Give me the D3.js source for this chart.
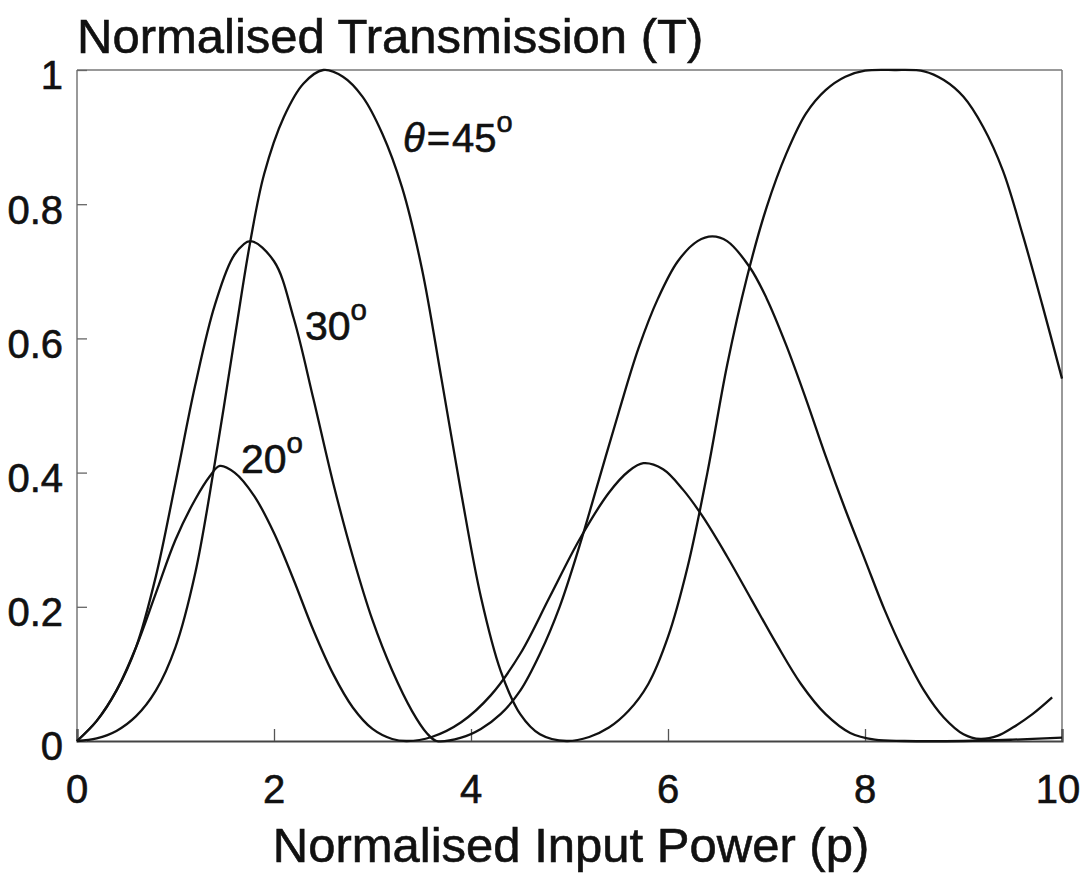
<!DOCTYPE html>
<html>
<head>
<meta charset="utf-8">
<script src="https://cdn.jsdelivr.net/npm/d3@7"></script>
<style>
  html, body { margin: 0; padding: 0; background: #fff; }
  svg { display: block; }
  text { font-family: "Liberation Sans", Arial, Helvetica, sans-serif; fill: #111; stroke: #111; stroke-width: 0.6px; }
</style>
</head>
<body>
<svg id="chart" width="1086" height="878"></svg>
<script>
// ---- data ----
const xTicks = [0, 2, 4, 6, 8, 10];
const yTicks = [0, 0.2, 0.4, 0.6, 0.8, 1];
const yTickLabels = ["0", "0.2", "0.4", "0.6", "0.8", "1"];

const p20 = [0, 0.2, 0.4, 0.6, 0.8, 1.0, 1.2, 1.35, 1.45, 1.6, 1.8, 2.0, 2.2, 2.4, 2.6, 2.8, 3.0, 3.2, 3.35, 3.6, 3.9, 4.2, 4.5, 4.8, 5.1, 5.4, 5.6, 5.75, 5.95, 6.15, 6.35, 6.6, 6.85, 7.1, 7.35, 7.6, 7.85, 8.1, 8.4, 9.0, 9.5, 10];
const t20 = [0, 0.03, 0.075, 0.14, 0.22, 0.30, 0.36, 0.395, 0.41, 0.40, 0.365, 0.31, 0.24, 0.165, 0.10, 0.05, 0.018, 0.003, 0, 0.006, 0.028, 0.068, 0.13, 0.215, 0.30, 0.37, 0.402, 0.414, 0.405, 0.375, 0.335, 0.275, 0.21, 0.145, 0.085, 0.04, 0.012, 0.002, 0, 0, 0.002, 0.005];

const p30 = [0, 0.2, 0.4, 0.6, 0.8, 1.0, 1.2, 1.4, 1.6, 1.76, 2.0, 2.2, 2.4, 2.6, 2.8, 3.0, 3.2, 3.4, 3.55, 3.65, 3.9, 4.1, 4.3, 4.5, 4.7, 4.9, 5.1, 5.3, 5.5, 5.7, 5.9, 6.1, 6.3, 6.45, 6.6, 6.83, 7.0, 7.2, 7.4, 7.6, 7.8, 8.0, 8.2, 8.4, 8.6, 8.8, 9.0, 9.17, 9.35, 9.5, 9.7, 9.9];
const t30 = [0, 0.03, 0.075, 0.14, 0.245, 0.385, 0.53, 0.65, 0.725, 0.745, 0.715, 0.63, 0.51, 0.385, 0.275, 0.18, 0.105, 0.045, 0.012, 0, 0.005, 0.018, 0.04, 0.075, 0.13, 0.20, 0.29, 0.39, 0.49, 0.585, 0.66, 0.715, 0.745, 0.752, 0.745, 0.706, 0.66, 0.59, 0.51, 0.425, 0.345, 0.27, 0.195, 0.13, 0.075, 0.035, 0.01, 0.003, 0.008, 0.02, 0.04, 0.065];

const p45 = [0, 0.2, 0.4, 0.6, 0.8, 1.0, 1.2, 1.4, 1.6, 1.76, 1.9, 2.1, 2.3, 2.5, 2.7, 2.9, 3.1, 3.3, 3.5, 3.7, 3.9, 4.1, 4.3, 4.5, 4.7, 4.97, 5.2, 5.4, 5.6, 5.8, 6.0, 6.2, 6.4, 6.6, 6.8, 7.0, 7.2, 7.4, 7.6, 7.8, 8.0, 8.3, 8.6, 8.8, 9.0, 9.2, 9.4, 9.6, 9.8, 10];
const t45 = [0, 0.004, 0.015, 0.037, 0.075, 0.14, 0.25, 0.415, 0.60, 0.745, 0.845, 0.93, 0.98, 1.0, 0.99, 0.96, 0.905, 0.825, 0.705, 0.54, 0.37, 0.215, 0.105, 0.04, 0.01, 0, 0.006, 0.02, 0.045, 0.085, 0.155, 0.26, 0.40, 0.56, 0.69, 0.795, 0.875, 0.935, 0.97, 0.99, 0.999, 1.0, 0.998, 0.985, 0.96, 0.915, 0.85, 0.755, 0.65, 0.54];

const seriesNames = ["20", "30", "45"];
const seriesP = [p20, p30, p45];
const seriesT = [t20, t30, t45];

(function () {
// ---- layout ----
const svg = d3.select("#chart");
const mLeft = 77, mRight = 1062, mTop = 70, mBottom = 741;

const x = d3.scaleLinear().domain([0, 10]).range([mLeft, mRight]);
const y = d3.scaleLinear().domain([0, 1]).range([mBottom, mTop]);

// frame
svg.append("line").attr("x1", mLeft).attr("x2", mRight).attr("y1", mTop).attr("y2", mTop)
  .attr("stroke", "#777").attr("stroke-width", 1.5);
svg.append("line").attr("x1", mRight).attr("x2", mRight).attr("y1", mTop).attr("y2", mBottom)
  .attr("stroke", "#777").attr("stroke-width", 1.5);
svg.append("line").attr("x1", mLeft).attr("x2", mLeft).attr("y1", mTop).attr("y2", mBottom)
  .attr("stroke", "#777").attr("stroke-width", 1.5);

// axes with inward ticks
const xAxis = d3.axisBottom(x).tickValues(xTicks).tickSize(-12).tickFormat("");
const gx = svg.append("g").attr("transform", `translate(0,${mBottom})`).call(xAxis);
gx.select(".domain").attr("stroke", "#444").attr("stroke-width", 2.2);
gx.selectAll(".tick line").attr("stroke", "#555").attr("stroke-width", 1.3);

const yAxis = d3.axisLeft(y).tickValues(yTicks).tickSize(-10).tickFormat("");
const gy = svg.append("g").attr("transform", `translate(${mLeft},0)`).call(yAxis);
gy.select(".domain").remove();
gy.selectAll(".tick line").attr("stroke", "#666").attr("stroke-width", 1.3);

// tick labels
svg.append("g").selectAll("text").data(xTicks).join("text")
  .attr("x", d => x(d) - (d === 10 ? 4 : 0))
  .attr("y", 803)
  .attr("text-anchor", "middle")
  .attr("font-size", 40)
  .text(d => d);

svg.append("g").selectAll("text").data(yTicks).join("text")
  .attr("x", 63)
  .attr("y", d => y(d) + 5)
  .attr("dy", "0.36em")
  .attr("text-anchor", "end")
  .attr("font-size", 40)
  .text((d, i) => yTickLabels[i]);

// titles
svg.append("text").attr("x", 77).attr("y", 53).attr("font-size", 49)
  .text("Normalised Transmission (T)");
svg.append("text").attr("x", 571).attr("y", 862).attr("text-anchor", "middle").attr("font-size", 49)
  .text("Normalised Input Power (p)");

// curves
const line = d3.line().x(d => x(d[0])).y(d => y(d[1])).curve(d3.curveCatmullRom.alpha(0.5));
seriesNames.forEach((name, i) => {
  const pts = seriesP[i].map((p, j) => [p, seriesT[i][j]]);
  svg.append("path").datum(pts)
    .attr("fill", "none").attr("stroke", "#111").attr("stroke-width", 2.3)
    .attr("d", line);
});

// curve annotations
function degLabel(px, py, main, fs) {
  const t = svg.append("text").attr("x", px).attr("y", py).attr("font-size", fs);
  t.append("tspan").text(main);
  t.append("tspan").attr("font-size", fs * 0.72).attr("dy", -fs * 0.5).text("o");
  return t;
}
const lab45 = svg.append("text").attr("x", 403).attr("y", 152).attr("font-size", 40);
lab45.append("tspan").attr("font-style", "italic").text("θ");
lab45.append("tspan").attr("dx", 2).text("=");
lab45.append("tspan").attr("dx", 2).text("45");
lab45.append("tspan").attr("font-size", 29).attr("dy", -20).text("o");

degLabel(305, 340, "30", 41);
degLabel(241, 473, "20", 41);
})();
</script>
</body>
</html>
